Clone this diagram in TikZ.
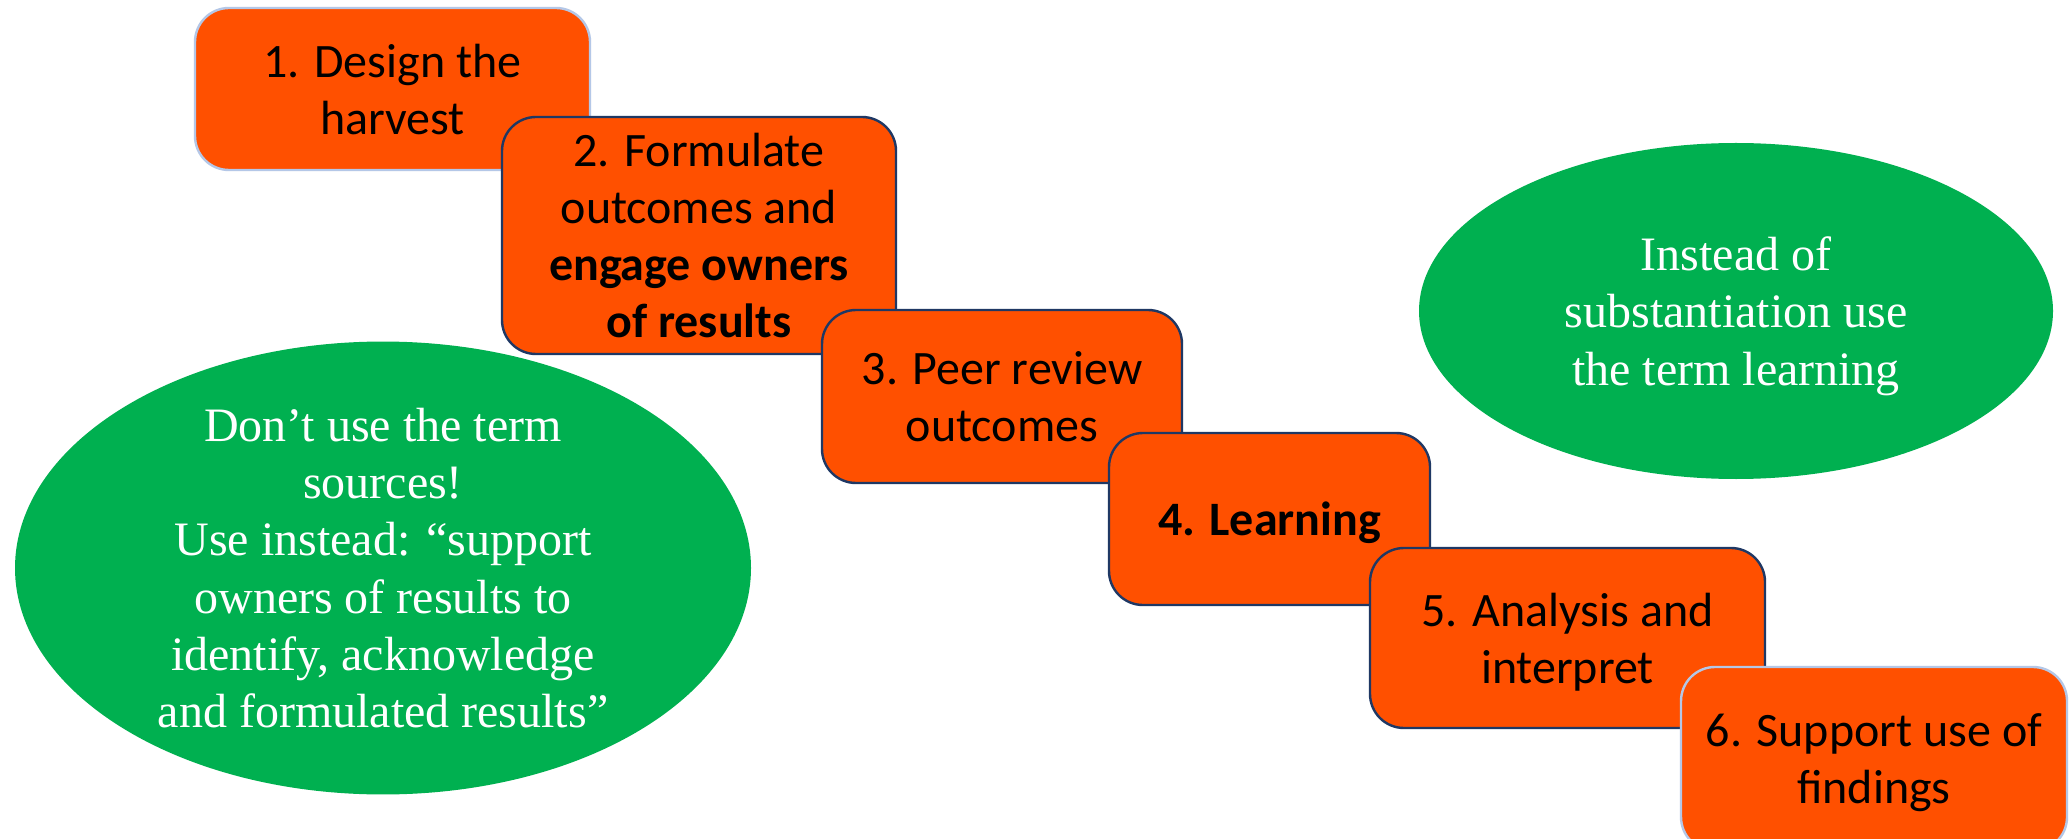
\documentclass[tikz,border=0pt]{standalone}
\usepackage{fontspec}
\setmainfont{Carlito}
\newfontfamily\timesfont{Liberation Serif}
\usetikzlibrary{shapes.geometric}
\definecolor{orangefill}{HTML}{FF5000}
\definecolor{greenfill}{HTML}{00B050}
\definecolor{navyline}{HTML}{1F3864}
\definecolor{lightline}{HTML}{B4C7E7}
\tikzset{
  stepbox/.style={rectangle, rounded corners=17pt, fill=orangefill, draw=navyline,
    line width=1.2pt, inner sep=0pt, align=center, text=black, text depth=0pt,
    font=\fontsize{24}{28.5}\selectfont},
  lightbox/.style={stepbox, draw=lightline},
  note/.style={ellipse, fill=greenfill, draw=none, inner sep=0pt, align=center,
    text=white, font=\timesfont\fontsize{24}{28.65}\selectfont}
}
\begin{document}
\begin{tikzpicture}[x=0.5pt,y=-0.5pt]
\useasboundingbox (0,0) rectangle (2070,839);
\clip (0,0) rectangle (2070,839);
\fill[white] (0,0) rectangle (2070,839);
\node[lightbox, minimum width=197.5pt, minimum height=81pt] (b1) at (392.5,89) {1. Design the\\harvest};
\node[stepbox, minimum width=197pt, minimum height=118.5pt] (b2) at (699,235.5) {2. Formulate\\outcomes and\\\textbf{engage owners}\\\textbf{of results}};
\node[stepbox, minimum width=180pt, minimum height=86.5pt] (b3) at (1002,396.5) {3. Peer review\\outcomes};
\node[stepbox, minimum width=160.5pt, minimum height=86pt] (b4) at (1269.5,519) {\textbf{4. Learning}};
\node[stepbox, minimum width=197.5pt, minimum height=90pt] (b5) at (1567.5,638) {5. Analysis and\\interpret};
\node[lightbox, minimum width=193pt, minimum height=92pt] (b6) at (1874,759) {6. Support use of\\findings};
\node[note, minimum width=368pt, minimum height=212pt] (e1) at (383,568) {Don’t use the term\\sources!\\Use instead: “support\\owners of results to\\identify, acknowledge\\and formulated results”};
\node[note, text depth=-2pt, minimum width=317pt, minimum height=168pt] (e2) at (1736,311) {Instead of\\substantiation use\\the term learning};
\end{tikzpicture}
\end{document}
